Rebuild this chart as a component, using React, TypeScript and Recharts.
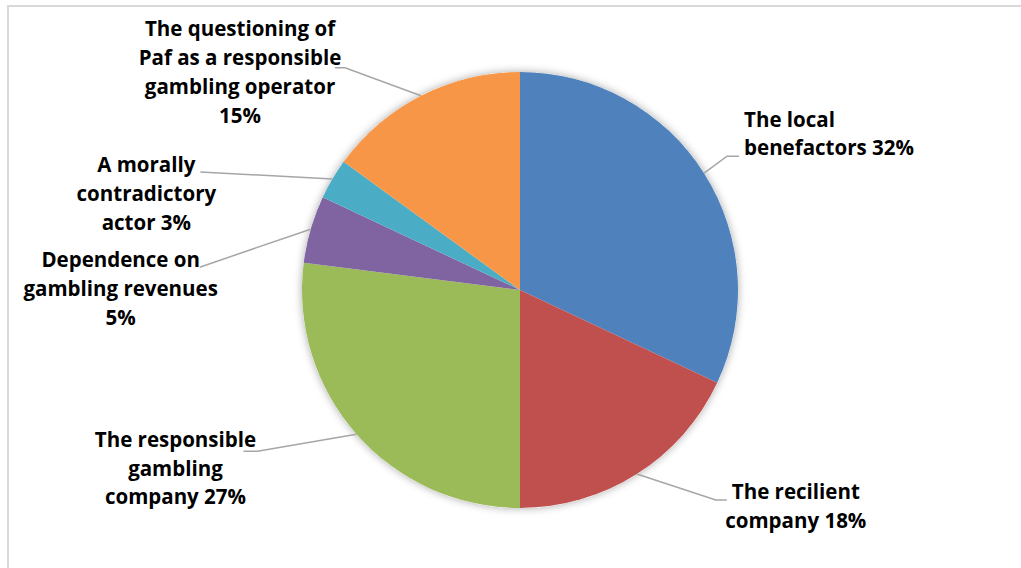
import { PieChart, Pie, Cell } from 'recharts';

// category label lines (name only), shares in %, slice colours
const categories = [
  ['The local', 'benefactors'],
  ['The recilient', 'company'],
  ['The responsible', 'gambling', 'company'],
  ['Dependence on', 'gambling revenues'],
  ['A morally', 'contradictory', 'actor'],
  ['The questioning of', 'Paf as a responsible', 'gambling operator'],
];
const shares = [32, 18, 27, 5, 3, 15];
const pctOwnLine = [false, false, false, true, false, true];
const colors = ['#4F81BD', '#C0504D', '#9BBB59', '#8064A2', '#4BACC6', '#F79646'];

const data = categories.map((lines, i) => ({
  name: lines.join(' '),
  value: shares[i],
  lines,
  pctOwnLine: pctOwnLine[i],
}));
const total = shares.reduce((a, b) => a + b, 0);

// where each (hand-placed) label sits, relative to the slice's edge point
const labelLayout = [
  { elbow: [23, -17], tail: 12, tx: 5, anchor: 'start', base: -29, lh: 28 },
  { elbow: [79, 26], tail: 11, tx: 69, anchor: 'middle', base: -1, lh: 29 },
  { elbow: [-99, 17], tail: -14, tx: -68, anchor: 'middle', base: -4, lh: 28.5 },
  { elbow: [-111, 38], tail: 0, tx: -79, anchor: 'middle', base: 0, lh: 29 },
  { elbow: [-132, -7], tail: 0, tx: -54, anchor: 'middle', base: 0, lh: 29 },
  { elbow: [-76, -28], tail: -10, tx: -95, anchor: 'middle', base: -32, lh: 29 },
];

const RADIAN = Math.PI / 180;

const renderLabel = (props: any) => {
  const { cx, cy, midAngle, outerRadius, index, value } = props;
  const lay = labelLayout[index];
  const d = data[index];
  const sx = cx + outerRadius * Math.cos(-midAngle * RADIAN);
  const sy = cy + outerRadius * Math.sin(-midAngle * RADIAN);
  const ex = sx + lay.elbow[0];
  const ey = sy + lay.elbow[1];
  const endX = ex + lay.tail;
  const lines = d.pctOwnLine
    ? [...d.lines, `${value}%`]
    : d.lines.map((l: string, i: number) => (i === d.lines.length - 1 ? `${l} ${value}%` : l));
  return (
    <g key={`lbl-${index}`}>
      <polyline
        points={`${sx},${sy} ${ex},${ey} ${endX},${ey}`}
        fill="none"
        stroke="#A6A6A6"
        strokeWidth={1.5}
      />
      <text
        x={endX + lay.tx}
        y={ey + lay.base}
        textAnchor={lay.anchor}
        fontFamily="'Open Sans', sans-serif"
        fontWeight={700}
        fontSize={20.5}
        fill="#000"
      >
        {lines.map((l: string, i: number) => (
          <tspan key={i} x={endX + lay.tx} y={ey + lay.base + i * lay.lh}>
            {l}
          </tspan>
        ))}
      </text>
    </g>
  );
};

export default function App() {
  return (
    <div style={{ position: 'absolute', left: 0, top: 0, width: 1021, height: 568, background: '#fff' }}>
      <div
        style={{
          position: 'absolute',
          left: 7,
          top: 5,
          width: 1020,
          height: 570,
          borderTop: '2px solid #D9D9D9',
          borderLeft: '2px solid #D9D9D9',
        }}
      />
      <div style={{ position: 'absolute', left: 0, top: 0 }}>
        <PieChart width={1021} height={568} margin={{ top: 0, right: 0, bottom: 0, left: 0 }}>
          <defs>
            <filter id="pieGlow" x="-10%" y="-10%" width="120%" height="120%">
              <feDropShadow dx="0" dy="0" stdDeviation="4" floodColor="#000" floodOpacity="0.35" />
            </filter>
          </defs>
          <Pie
            data={[{ name: 'all', value: total }]}
            dataKey="value"
            cx={520}
            cy={290}
            outerRadius={218}
            startAngle={90}
            endAngle={-270}
            stroke="none"
            isAnimationActive={false}
            label={false}
            labelLine={false}
          >
            <Cell fill="#fff" filter="url(#pieGlow)" />
          </Pie>
          <Pie
            data={data}
            dataKey="value"
            nameKey="name"
            cx={520}
            cy={290}
            outerRadius={218}
            startAngle={90}
            endAngle={-270}
            stroke="none"
            isAnimationActive={false}
            label={renderLabel}
            labelLine={false}
          >
            {data.map((d, i) => (
              <Cell key={d.name} fill={colors[i]} />
            ))}
          </Pie>
        </PieChart>
      </div>
    </div>
  );
}
